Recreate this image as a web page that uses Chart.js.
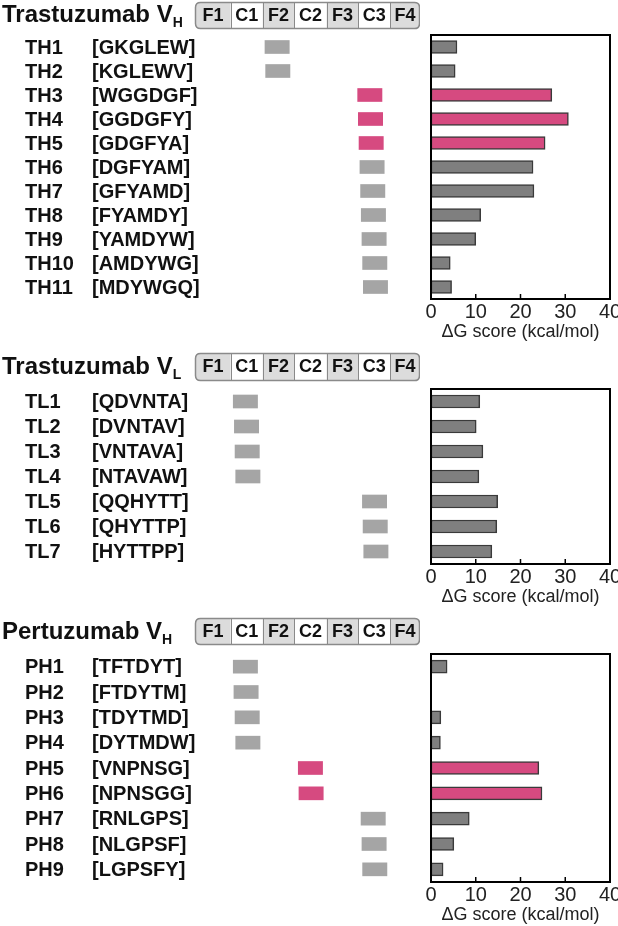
<!DOCTYPE html>
<html>
<head>
<meta charset="utf-8">
<script src="https://cdn.jsdelivr.net/npm/chart.js@4.4.1/dist/chart.umd.min.js"></script>
<style>
  html, body { margin: 0; padding: 0; background: #fff; width: 618px; height: 926px; overflow: hidden; }
  canvas { position: absolute; }
</style>
</head>
<body>
<script>
// regions of the V domain, edges in % of the domain length
const regions = ['F1', 'C1', 'F2', 'C2', 'F3', 'C3', 'F4'];
const regionEdges = [0, 15.9, 30.1, 44.1, 58.5, 72.6, 86.7, 100];
const pepWidth = 10.8;
const dgTicks = [0, 10, 20, 30, 40];

// Trastuzumab VH
const thLabels = ['TH1', 'TH2', 'TH3', 'TH4', 'TH5', 'TH6', 'TH7', 'TH8', 'TH9', 'TH10', 'TH11'];
const thSeqs = ['GKGLEW', 'KGLEWV', 'WGGDGF', 'GGDGFY', 'GDGFYA', 'DGFYAM', 'GFYAMD', 'FYAMDY', 'YAMDYW', 'AMDYWG', 'MDYWGQ'];
const thStart = [31.1, 31.4, 72.3, 72.6, 72.9, 73.3, 73.6, 73.9, 74.2, 74.5, 74.8];
const thDG = [5.8, 5.4, 27.0, 30.7, 25.5, 22.8, 23.0, 11.1, 10.0, 4.3, 4.6];
const thHot = [0, 0, 1, 1, 1, 0, 0, 0, 0, 0, 0];

// Trastuzumab VL
const tlLabels = ['TL1', 'TL2', 'TL3', 'TL4', 'TL5', 'TL6', 'TL7'];
const tlSeqs = ['QDVNTA', 'DVNTAV', 'VNTAVA', 'NTAVAW', 'QQHYTT', 'QHYTTP', 'HYTTPP'];
const tlStart = [17.0, 17.5, 17.8, 18.1, 74.4, 74.7, 75.0];
const tlDG = [10.9, 10.1, 11.6, 10.7, 14.9, 14.7, 13.6];
const tlHot = [0, 0, 0, 0, 0, 0, 0];

// Pertuzumab VH
const phLabels = ['PH1', 'PH2', 'PH3', 'PH4', 'PH5', 'PH6', 'PH7', 'PH8', 'PH9'];
const phSeqs = ['TFTDYT', 'FTDYTM', 'TDYTMD', 'DYTMDW', 'VNPNSG', 'NPNSGG', 'RNLGPS', 'NLGPSF', 'LGPSFY'];
const phStart = [17.0, 17.3, 17.8, 18.1, 45.9, 46.2, 73.8, 74.2, 74.5];
const phDG = [3.6, 0, 2.2, 2.1, 24.1, 24.8, 8.55, 5.1, 2.7];
const phHot = [0, 0, 0, 0, 1, 1, 0, 0, 0];

const FONT = '"Liberation Sans", Arial, sans-serif';
const PINK = '#d64a80';

const panels = [
  { title: 'Trastuzumab V', sub: 'H', labels: thLabels, seqs: thSeqs, start: thStart, dg: thDG, hot: thHot,
    top: 35, bottom: 299, hTop: 2, hBot: 28, titleY: 15 },
  { title: 'Trastuzumab V', sub: 'L', labels: tlLabels, seqs: tlSeqs, start: tlStart, dg: tlDG, hot: tlHot,
    top: 389, bottom: 564, hTop: 353, hBot: 380, titleY: 367 },
  { title: 'Pertuzumab V', sub: 'H', labels: phLabels, seqs: phSeqs, start: phStart, dg: phDG, hot: phHot,
    top: 654, bottom: 882, hTop: 618, hBot: 644, titleY: 632 }
];

function makeCanvas(left, top, w, h) {
  const c = document.createElement('canvas');
  c.width = w; c.height = h;
  c.style.left = left + 'px'; c.style.top = top + 'px';
  c.style.width = w + 'px'; c.style.height = h + 'px';
  document.body.appendChild(c);
  return c;
}

function roundRect(ctx, x, y, w, h, r) {
  ctx.beginPath();
  ctx.moveTo(x + r, y);
  ctx.lineTo(x + w - r, y);
  ctx.quadraticCurveTo(x + w, y, x + w, y + r);
  ctx.lineTo(x + w, y + h - r);
  ctx.quadraticCurveTo(x + w, y + h, x + w - r, y + h);
  ctx.lineTo(x + r, y + h);
  ctx.quadraticCurveTo(x, y + h, x, y + h - r);
  ctx.lineTo(x, y + r);
  ctx.quadraticCurveTo(x, y, x + r, y);
  ctx.closePath();
}

// title, region header and row labels of the left part
const leftDeco = {
  id: 'leftDeco',
  afterDraw(chart, args, o) {
    const { ctx, scales: { x, y } } = chart;
    ctx.save();
    ctx.fillStyle = '#111';
    ctx.textBaseline = 'middle';
    ctx.textAlign = 'left';
    ctx.font = 'bold 24px ' + FONT;
    ctx.fillText(o.title, 2, o.titleY);
    const tw = ctx.measureText(o.title).width;
    ctx.font = 'bold 14px ' + FONT;
    ctx.fillText(o.sub, 2 + tw, o.titleY + 8);

    // region header
    const x0 = x.getPixelForValue(regionEdges[0]);
    const x1 = x.getPixelForValue(regionEdges[regionEdges.length - 1]);
    ctx.save();
    roundRect(ctx, x0 + 0.5, o.hTop + 0.5, x1 - x0 - 1, o.hBot - o.hTop, 5);
    ctx.clip();
    regions.forEach((r, i) => {
      const a = x.getPixelForValue(regionEdges[i]), b = x.getPixelForValue(regionEdges[i + 1]);
      ctx.fillStyle = r[0] === 'F' ? '#dcdcdc' : '#ffffff';
      ctx.fillRect(a, o.hTop, b - a, o.hBot - o.hTop + 1);
    });
    ctx.restore();
    ctx.strokeStyle = '#8a8a8a';
    ctx.lineWidth = 1;
    for (let i = 1; i < regions.length; i++) {
      const a = Math.round(x.getPixelForValue(regionEdges[i])) + 0.5;
      ctx.beginPath(); ctx.moveTo(a, o.hTop); ctx.lineTo(a, o.hBot); ctx.stroke();
    }
    ctx.lineWidth = 1.5;
    roundRect(ctx, x0 + 0.5, o.hTop + 0.5, x1 - x0 - 1, o.hBot - o.hTop, 5);
    ctx.stroke();
    ctx.fillStyle = '#111';
    ctx.textAlign = 'center';
    ctx.font = 'bold 18px ' + FONT;
    regions.forEach((r, i) => {
      const a = x.getPixelForValue(regionEdges[i]), b = x.getPixelForValue(regionEdges[i + 1]);
      ctx.fillText(r, (a + b) / 2, (o.hTop + o.hBot) / 2 + 1);
    });

    // row labels
    ctx.textAlign = 'left';
    ctx.font = 'bold 20px ' + FONT;
    o.labels.forEach((l, i) => {
      const yy = y.getPixelForValue(i) + 1;
      ctx.fillText(l, 25, yy);
      ctx.fillText('[' + o.seqs[i] + ']', 92, yy);
    });
    ctx.restore();
  }
};

// frame and inner ticks of the dG chart
const frameDeco = {
  id: 'frameDeco',
  afterDatasetsDraw(chart) {
    const { ctx, chartArea: a, scales: { x } } = chart;
    ctx.save();
    ctx.strokeStyle = '#000';
    ctx.lineWidth = 2;
    ctx.strokeRect(a.left, a.top, a.right - a.left, a.bottom - a.top);
    ctx.lineWidth = 1.5;
    dgTicks.slice(1, -1).forEach(v => {
      const px = x.getPixelForValue(v);
      ctx.beginPath(); ctx.moveTo(px, a.bottom); ctx.lineTo(px, a.bottom - 5); ctx.stroke();
    });
    ctx.restore();
  }
};

panels.forEach(p => {
  // left: peptide positions on the V domain
  const lTop = p.hTop - 2;
  const lc = makeCanvas(0, lTop, 420, p.bottom - lTop + 2);
  new Chart(lc, {
    type: 'bar',
    data: {
      labels: p.labels,
      datasets: [{
        data: p.start.map(s => [s, s + pepWidth]),
        backgroundColor: p.hot.map(h => h ? PINK : '#a5a5a5'),
        borderWidth: 0,
        barThickness: 13
      }]
    },
    options: {
      indexAxis: 'y',
      responsive: false,
      animation: false,
      layout: { padding: { left: 195, right: 0, top: p.top - lTop, bottom: 2 } },
      plugins: {
        legend: { display: false }, tooltip: { enabled: false },
        leftDeco: { title: p.title, sub: p.sub, labels: p.labels, seqs: p.seqs,
          titleY: p.titleY - lTop, hTop: p.hTop - lTop, hBot: p.hBot - lTop }
      },
      scales: {
        x: { display: false, min: 0, max: 100 },
        y: { display: false }
      }
    },
    plugins: [leftDeco]
  });

  // right: dG scores
  const rTop = p.top - 10;
  const rc = makeCanvas(400, rTop, 218, p.bottom + 44 - rTop);
  new Chart(rc, {
    type: 'bar',
    data: {
      labels: p.labels,
      datasets: [{
        data: p.dg,
        backgroundColor: p.hot.map(h => h ? PINK : '#7f7f7f'),
        borderColor: '#3a3a3a',
        borderWidth: 1.5,
        borderSkipped: false,
        barThickness: 13
      }]
    },
    options: {
      indexAxis: 'y',
      responsive: false,
      animation: false,
      layout: { padding: { left: 31, right: 8, top: 10, bottom: 0 } },
      plugins: { legend: { display: false }, tooltip: { enabled: false } },
      scales: {
        x: {
          min: 0, max: 40,
          afterBuildTicks: s => { s.ticks = dgTicks.map(v => ({ value: v })); },
          afterFit: s => { s.height = 44; s.paddingLeft = 0; s.paddingRight = 0; },
          grid: { display: false, drawTicks: false },
          border: { display: false },
          ticks: { color: '#222', font: { family: FONT, size: 20 }, padding: 1, maxRotation: 0 },
          title: { display: true, text: 'ΔG score (kcal/mol)', color: '#222',
            font: { family: FONT, size: 18 }, padding: { top: 0, bottom: 0 } }
        },
        y: { display: false }
      }
    },
    plugins: [frameDeco]
  });
});
</script>
</body>
</html>
